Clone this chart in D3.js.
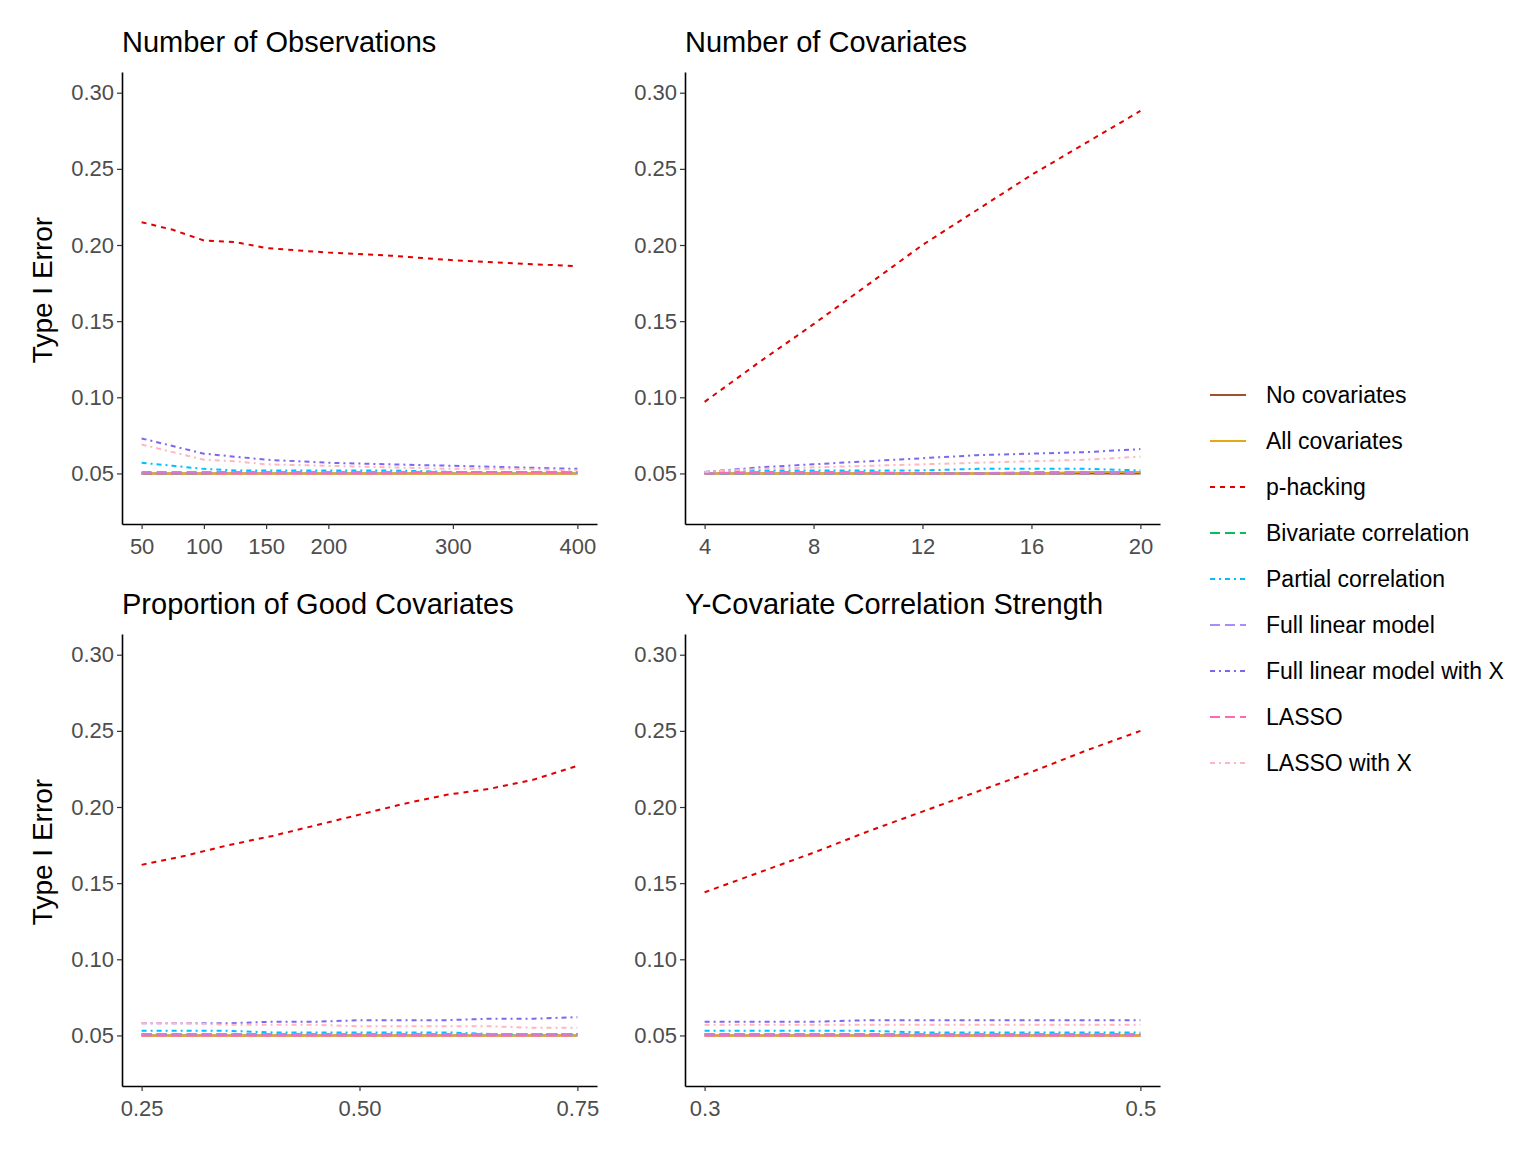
<!DOCTYPE html>
<html><head><meta charset="utf-8">
<script src="https://cdn.jsdelivr.net/npm/d3@7"></script>
<style>
body{margin:0;background:#fff;font-family:"Liberation Sans",Arial,sans-serif}
</style></head><body>
<script>
const methods = ["No covariates","All covariates","p-hacking","Bivariate correlation","Partial correlation","Full linear model","Full linear model with X","LASSO","LASSO with X"];
const colors = ["#A0522D","#E6A817","#E00000","#00C060","#00BFFF","#A98BFA","#7B68EE","#FF69B4","#FFB6C1"];
const dashes = [null,null,"5,5","10,5","5,4,2,4","10,5","5,4,2,4","10,5","5,4,2,4"];

// panel 1: number of observations
const obsX = [50,75,100,125,150,200,250,300,350,400];
const obsY = [
  [0.050,0.050,0.050,0.050,0.050,0.050,0.050,0.050,0.050,0.050],
  [0.050,0.050,0.050,0.050,0.050,0.050,0.050,0.050,0.050,0.050],
  [0.215,0.210,0.203,0.202,0.198,0.195,0.193,0.190,0.188,0.186],
  [0.050,0.050,0.050,0.051,0.051,0.051,0.051,0.051,0.051,0.051],
  [0.057,0.055,0.053,0.052,0.052,0.052,0.052,0.051,0.051,0.051],
  [0.051,0.051,0.051,0.051,0.051,0.051,0.051,0.051,0.051,0.051],
  [0.073,0.068,0.063,0.061,0.059,0.057,0.056,0.055,0.054,0.053],
  [0.050,0.050,0.050,0.050,0.050,0.050,0.050,0.051,0.051,0.050],
  [0.069,0.064,0.059,0.058,0.056,0.055,0.054,0.053,0.053,0.052]];
// panel 2: number of covariates
const covX = [4,6,8,10,12,14,16,18,20];
const covY = [
  [0.050,0.050,0.050,0.050,0.050,0.050,0.050,0.050,0.050],
  [0.050,0.050,0.050,0.050,0.050,0.050,0.050,0.051,0.051],
  [0.097,0.123,0.148,0.174,0.200,0.223,0.246,0.267,0.288],
  [0.050,0.050,0.050,0.050,0.050,0.050,0.050,0.050,0.050],
  [0.051,0.052,0.052,0.052,0.052,0.053,0.053,0.053,0.052],
  [0.050,0.050,0.050,0.050,0.050,0.050,0.051,0.051,0.051],
  [0.051,0.054,0.056,0.058,0.060,0.062,0.063,0.064,0.066],
  [0.050,0.051,0.051,0.051,0.050,0.050,0.050,0.050,0.050],
  [0.051,0.053,0.054,0.055,0.056,0.057,0.058,0.059,0.061]];
// panel 3: proportion of good covariates
const propX = [0.25,0.30,0.35,0.40,0.45,0.50,0.55,0.60,0.65,0.70,0.75];
const propY = [
  [0.050,0.050,0.050,0.050,0.050,0.050,0.050,0.050,0.050,0.050,0.050],
  [0.050,0.050,0.050,0.050,0.050,0.050,0.050,0.050,0.050,0.050,0.050],
  [0.162,0.168,0.175,0.181,0.188,0.195,0.202,0.208,0.212,0.218,0.227],
  [0.051,0.051,0.051,0.051,0.051,0.051,0.051,0.051,0.051,0.051,0.051],
  [0.053,0.053,0.053,0.052,0.052,0.052,0.052,0.052,0.051,0.051,0.051],
  [0.051,0.051,0.051,0.051,0.051,0.051,0.051,0.051,0.051,0.051,0.051],
  [0.058,0.058,0.058,0.059,0.059,0.060,0.060,0.060,0.061,0.061,0.062],
  [0.050,0.050,0.050,0.050,0.050,0.050,0.050,0.050,0.050,0.050,0.050],
  [0.058,0.058,0.057,0.057,0.057,0.056,0.056,0.056,0.056,0.055,0.055]];
// panel 4: Y-covariate correlation strength
const corX = [0.300,0.325,0.350,0.375,0.400,0.425,0.450,0.475,0.500];
const corY = [
  [0.050,0.050,0.050,0.050,0.050,0.050,0.050,0.050,0.050],
  [0.050,0.050,0.050,0.050,0.050,0.050,0.050,0.050,0.050],
  [0.144,0.157,0.170,0.184,0.197,0.210,0.223,0.237,0.250],
  [0.051,0.051,0.051,0.051,0.051,0.051,0.051,0.051,0.051],
  [0.053,0.053,0.053,0.053,0.052,0.052,0.052,0.052,0.052],
  [0.051,0.051,0.051,0.051,0.051,0.051,0.051,0.051,0.051],
  [0.059,0.059,0.059,0.060,0.060,0.060,0.060,0.060,0.060],
  [0.050,0.050,0.050,0.050,0.050,0.050,0.050,0.050,0.050],
  [0.057,0.057,0.057,0.057,0.057,0.057,0.057,0.057,0.057]];
const yTicks = [0.05,0.10,0.15,0.20,0.25,0.30];

const panels = [
  {title:"Number of Observations", x:obsX, y:obsY, ticks:[50,100,150,200,300,400], fmt:d3.format("d"), left:122, top:72},
  {title:"Number of Covariates", x:covX, y:covY, ticks:[4,8,12,16,20], fmt:d3.format("d"), left:685, top:72},
  {title:"Proportion of Good Covariates", x:propX, y:propY, ticks:[0.25,0.50,0.75], fmt:d3.format(".2f"), left:122, top:634},
  {title:"Y-Covariate Correlation Strength", x:corX, y:corY, ticks:[0.3,0.5], fmt:d3.format(".1f"), left:685, top:634}];

const W = 1536, H = 1152, pw = 475, ph = 452;
const svg = d3.select("body").append("svg").attr("width", W).attr("height", H);

panels.forEach((p, pi) => {
  const g = svg.append("g").attr("transform", `translate(${p.left},${p.top})`);
  const ext = d3.extent(p.x), pad = (ext[1]-ext[0])*0.045;
  const x = d3.scaleLinear().domain([ext[0]-pad, ext[1]+pad]).range([0, pw]);
  const y = d3.scaleLinear().domain([0.0168, 0.3136]).range([ph, 0]);

  p.y.forEach((vals, i) => {
    const line = d3.line().x((d, j) => x(p.x[j])).y(d => y(d));
    g.append("path").datum(vals).attr("d", line)
      .attr("fill","none").attr("stroke", colors[i]).attr("stroke-width", 2)
      .attr("stroke-dasharray", dashes[i]);
  });

  const xa = g.append("g").attr("transform", `translate(0,${ph})`)
    .call(d3.axisBottom(x).tickValues(p.ticks).tickFormat(p.fmt).tickSize(5).tickSizeOuter(0));
  const ya = g.append("g").call(d3.axisLeft(y).tickValues(yTicks).tickFormat(d3.format(".2f")).tickSize(5).tickSizeOuter(0));
  [xa, ya].forEach(a => {
    a.select(".domain").attr("stroke","#000").attr("stroke-width",1.6);
    a.selectAll(".tick line").attr("stroke","#333").attr("stroke-width",1.2);
    a.selectAll("text").attr("fill","#4d4d4d").style("font-size","22px").style("font-family","Liberation Sans, Arial, sans-serif");
  });
  xa.selectAll("text").attr("dy","1.0em");
  ya.selectAll("text").attr("x",-8);

  g.append("text").attr("x", 0).attr("y", -20).text(p.title)
    .style("font-size","29px").attr("fill","#000");
  if (pi % 2 === 0) {
    g.append("text").attr("transform", `translate(-80,${ph/2 - 8}) rotate(-90)`)
      .attr("text-anchor","middle").attr("dy","0.35em").text("Type I Error")
      .style("font-size","28px").attr("fill","#000");
  }
});

const lg = svg.append("g").attr("transform","translate(1210,395)");
methods.forEach((m, i) => {
  const r = lg.append("g").attr("transform", `translate(0,${i*46})`);
  r.append("line").attr("x1",0).attr("x2",36).attr("stroke",colors[i]).attr("stroke-width",2)
    .attr("stroke-dasharray", dashes[i]);
  r.append("text").attr("x",56).attr("dy","0.35em").text(m).style("font-size","23px").attr("fill","#000");
});
</script>
</body></html>
